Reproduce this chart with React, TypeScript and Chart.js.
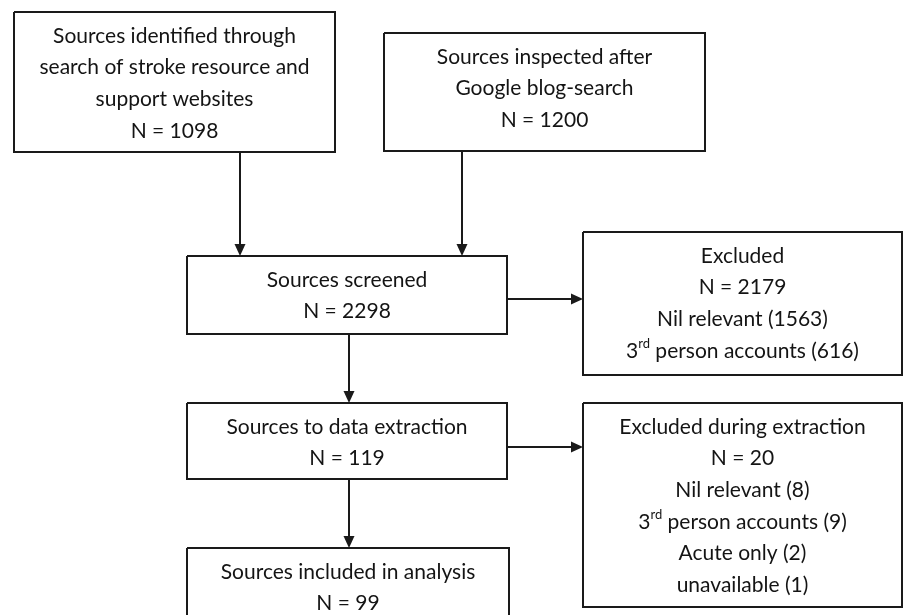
import React, { useEffect, useRef } from "react";
import { Chart, registerables } from "chart.js";

Chart.register(...registerables);

// Flow-diagram content (diagram coordinates: x 0..903, y 0..615 from top)
const boxTexts: string[][] = [
  ["Sources identified through", "search of stroke resource and", "support websites", "N = 1098"],
  ["Sources inspected after", "Google blog-search", "N = 1200"],
  ["Sources screened", "N = 2298"],
  ["Excluded", "N = 2179", "Nil relevant (1563)", "3{rd} person accounts (616)"],
  ["Sources to data extraction", "N = 119"],
  ["Excluded during extraction", "N = 20", "Nil relevant (8)", "3{rd} person accounts (9)", "Acute only (2)", "unavailable (1)"],
  ["Sources included in analysis", "N = 99"],
];
const boxLeft = [14, 384, 187, 583, 187, 583, 187];
const boxTop = [12, 33, 256, 232, 403, 403, 548];
const boxRight = [335, 705, 507, 902, 507, 902, 509];
const boxBottom = [152, 151, 334, 375, 479, 607, 650];

// arrows: start (x0,y0) -> tip (x1,y1)
const arrowX0 = [240, 462, 508, 349, 508, 349];
const arrowY0 = [152, 151, 299, 334, 447, 479];
const arrowX1 = [240, 462, 583, 349, 583, 349];
const arrowY1 = [256, 256, 299, 403, 447, 548];

const LINE = "#1a1a1a";
const TEXT = "#141414";
const FONT = "Lato";
const FS = 21;
const HEAD_LEN = 12;
const HEAD_W = 11;

function drawRichLine(ctx: CanvasRenderingContext2D, text: string, cx: number, cy: number) {
  const parts: { t: string; sup: boolean }[] = [];
  const re = /\{([^}]*)\}/g;
  let last = 0;
  let m: RegExpExecArray | null;
  while ((m = re.exec(text))) {
    if (m.index > last) parts.push({ t: text.slice(last, m.index), sup: false });
    parts.push({ t: m[1], sup: true });
    last = m.index + m[0].length;
  }
  if (last < text.length) parts.push({ t: text.slice(last), sup: false });
  const normal = `${FS}px ${FONT}`;
  const small = `${Math.round(FS * 0.62)}px ${FONT}`;
  let total = 0;
  const widths = parts.map((p) => {
    ctx.font = p.sup ? small : normal;
    const w = ctx.measureText(p.t).width;
    total += w;
    return w;
  });
  let x = cx - total / 2;
  parts.forEach((p, i) => {
    ctx.font = p.sup ? small : normal;
    ctx.fillText(p.t, x, p.sup ? cy - FS * 0.35 : cy);
    x += widths[i];
  });
}

const diagramPlugin = {
  id: "diagram",
  afterDatasetsDraw(chart: any) {
    const ctx: CanvasRenderingContext2D = chart.ctx;
    const xs = chart.scales.x;
    const ys = chart.scales.y;
    ctx.save();
    // arrow heads
    ctx.fillStyle = LINE;
    for (let i = 0; i < arrowX0.length; i++) {
      const x0 = xs.getPixelForValue(arrowX0[i]);
      const y0 = ys.getPixelForValue(arrowY0[i]);
      const x1 = xs.getPixelForValue(arrowX1[i]);
      const y1 = ys.getPixelForValue(arrowY1[i]);
      const ang = Math.atan2(y1 - y0, x1 - x0);
      ctx.save();
      ctx.translate(x1, y1);
      ctx.rotate(ang);
      ctx.beginPath();
      ctx.moveTo(0, 0);
      ctx.lineTo(-HEAD_LEN, -HEAD_W / 2);
      ctx.lineTo(-HEAD_LEN, HEAD_W / 2);
      ctx.closePath();
      ctx.fill();
      ctx.restore();
    }
    // texts
    ctx.fillStyle = TEXT;
    ctx.textBaseline = "middle";
    ctx.textAlign = "left";
    for (let i = 0; i < boxTexts.length; i++) {
      const cx = xs.getPixelForValue((boxLeft[i] + boxRight[i]) / 2);
      boxTexts[i].forEach((line, j) => {
        const cy = ys.getPixelForValue(boxTop[i] + 24 + j * 31.6);
        drawRichLine(ctx, line, cx, cy);
      });
    }
    ctx.restore();
  },
};

export default function App() {
  const ref = useRef<HTMLCanvasElement | null>(null);
  useEffect(() => {
    if (!ref.current) return;
    const datasets: any[] = [];
    for (let i = 0; i < boxTexts.length; i++) {
      const l = boxLeft[i], r = boxRight[i], t = boxTop[i], b = boxBottom[i];
      datasets.push({
        data: [
          { x: l, y: t },
          { x: r, y: t },
          { x: r, y: b },
          { x: l, y: b },
          { x: l, y: t },
        ],
        showLine: true,
        borderColor: LINE,
        borderWidth: 2,
        borderJoinStyle: "miter",
        pointRadius: 0,
        tension: 0,
        fill: false,
      });
    }
    for (let i = 0; i < arrowX0.length; i++) {
      const dx = arrowX1[i] - arrowX0[i];
      const dy = arrowY1[i] - arrowY0[i];
      const len = Math.hypot(dx, dy);
      datasets.push({
        data: [
          { x: arrowX0[i], y: arrowY0[i] },
          { x: arrowX1[i] - (dx / len) * (HEAD_LEN - 2), y: arrowY1[i] - (dy / len) * (HEAD_LEN - 2) },
        ],
        showLine: true,
        borderColor: LINE,
        borderWidth: 2,
        pointRadius: 0,
        fill: false,
      });
    }
    const chart = new Chart(ref.current, {
      type: "scatter",
      data: { datasets },
      options: {
        animation: false,
        responsive: false,
        maintainAspectRatio: false,
        layout: { padding: 0 },
        plugins: { legend: { display: false }, tooltip: { enabled: false } },
        scales: {
          x: { type: "linear", min: 0, max: 903, display: false },
          y: { type: "linear", min: 0, max: 615, reverse: true, display: false },
        },
      },
      plugins: [diagramPlugin],
    });
    return () => chart.destroy();
  }, []);
  return (
    <div style={{ position: "fixed", left: 0, top: 0, width: 903, height: 615, background: "#fff" }}>
      <canvas ref={ref} width={903} height={615} style={{ width: 903, height: 615 }} />
    </div>
  );
}
